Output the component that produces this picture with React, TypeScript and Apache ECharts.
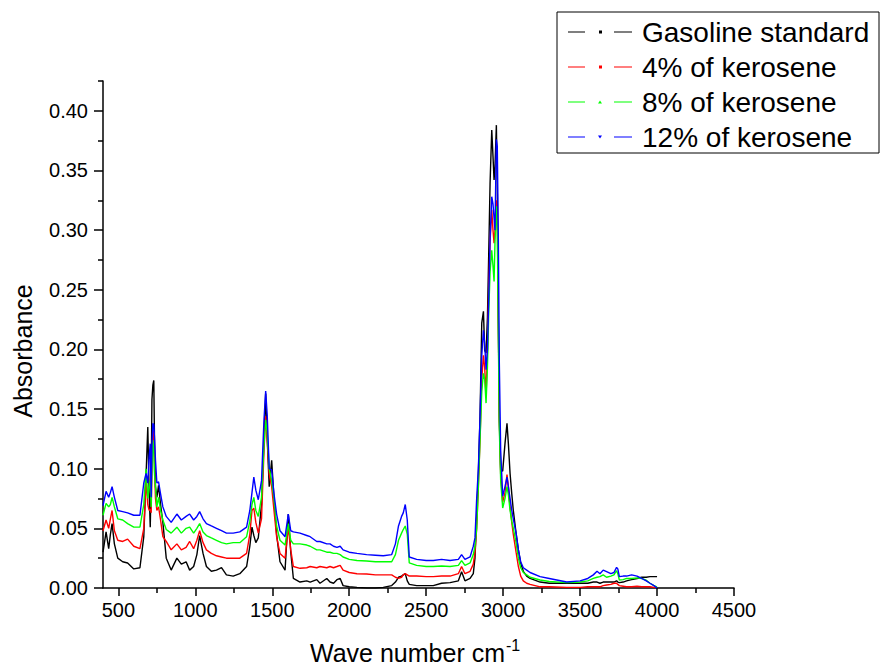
import React, { useEffect, useRef } from "react";
import * as echarts from "echarts";

// FTIR absorbance spectra: wave number (cm-1) vs absorbance
const waveNumbers = [
  400, 420, 437, 448, 459, 474, 496, 528, 560, 600,
  640, 665, 680, 691, 700, 707, 713, 718, 724, 730,
  735, 741, 750, 761, 774, 789, 811, 843, 880, 909,
  940, 963, 989, 1010, 1028, 1050, 1072, 1104, 1137, 1170,
  1202, 1246, 1289, 1333, 1354, 1368, 1380, 1393, 1409, 1430,
  1446, 1457, 1467, 1480, 1496, 1511, 1528, 1550, 1583, 1604,
  1620, 1637, 1680, 1724, 1746, 1789, 1810, 1854, 1875, 1898,
  1920, 1941, 1960, 2000, 2050, 2113, 2170, 2221, 2276, 2300,
  2320, 2340, 2351, 2364, 2377, 2390, 2438, 2500, 2546, 2600,
  2655, 2709, 2730, 2752, 2785, 2806, 2817, 2828, 2839, 2850,
  2861, 2872, 2880, 2889, 2898, 2906, 2915, 2926, 2934, 2941,
  2947, 2956, 2962, 2969, 2975, 2984, 2997, 3012, 3025, 3034,
  3045, 3056, 3066, 3084, 3099, 3114, 3131, 3153, 3175, 3240,
  3300, 3413, 3500, 3550, 3586, 3610, 3629, 3650, 3672, 3700,
  3720, 3737, 3745, 3755, 3780, 3802, 3835, 3870, 3900, 3930,
  3954, 3980, 4000,
];

const gasolineStandard = [
  0.030, 0.047, 0.033, 0.045, 0.054, 0.037, 0.025, 0.022, 0.021, 0.016,
  0.017, 0.043, 0.095, 0.135, 0.080, 0.051, 0.090, 0.158, 0.170, 0.174,
  0.120, 0.085, 0.076, 0.086, 0.070, 0.055, 0.025, 0.015, 0.025, 0.020,
  0.022, 0.015, 0.018, 0.028, 0.044, 0.029, 0.018, 0.014, 0.015, 0.017,
  0.011, 0.010, 0.012, 0.018, 0.035, 0.051, 0.044, 0.038, 0.042, 0.070,
  0.125, 0.163, 0.125, 0.085, 0.107, 0.075, 0.045, 0.022, 0.015, 0.062,
  0.030, 0.008, 0.005, 0.006, 0.005, 0.007, 0.004, 0.008, 0.005, 0.004,
  0.007, 0.008, 0.002, 0.001, 0.0005, 0.0, 0.0, 0.0005, 0.002, 0.005,
  0.009, 0.010, 0.011, 0.012, 0.006, 0.003, 0.002, 0.002, 0.002, 0.004,
  0.0045, 0.006, 0.0137, 0.006, 0.008, 0.012, 0.025, 0.060, 0.096, 0.144,
  0.222, 0.232, 0.199, 0.197, 0.227, 0.278, 0.339, 0.384, 0.362, 0.342,
  0.353, 0.388, 0.334, 0.222, 0.144, 0.099, 0.098, 0.121, 0.138, 0.121,
  0.096, 0.079, 0.065, 0.046, 0.032, 0.021, 0.014, 0.010, 0.008, 0.005,
  0.004, 0.004, 0.004, 0.004, 0.005, 0.005, 0.004, 0.005, 0.005, 0.005,
  0.005, 0.006, 0.005, 0.0045, 0.005, 0.006, 0.007, 0.008, 0.009, 0.009,
  0.0095, 0.0095, 0.0095,
];

const kerosene4 = [
  0.048, 0.057, 0.050, 0.058, 0.065, 0.048, 0.040, 0.039, 0.041, 0.035,
  0.033, 0.050, 0.090, 0.070, 0.065, 0.066, 0.063, 0.100, 0.132, 0.130,
  0.100, 0.075, 0.065, 0.068, 0.057, 0.043, 0.039, 0.032, 0.037, 0.032,
  0.034, 0.039, 0.033, 0.040, 0.048, 0.038, 0.032, 0.029, 0.027, 0.026,
  0.025, 0.025, 0.025, 0.029, 0.045, 0.065, 0.067, 0.055, 0.046, 0.058,
  0.115, 0.144, 0.125, 0.095, 0.085, 0.065, 0.043, 0.029, 0.025, 0.051,
  0.032, 0.018, 0.0165, 0.017, 0.018, 0.017, 0.018, 0.017, 0.018, 0.017,
  0.018, 0.019, 0.015, 0.013, 0.012, 0.0117, 0.011, 0.011, 0.011, 0.009,
  0.008, 0.009, 0.011, 0.012, 0.011, 0.010, 0.010, 0.0095, 0.0095, 0.010,
  0.010, 0.012, 0.018, 0.012, 0.014, 0.020, 0.030, 0.050, 0.085, 0.125,
  0.175, 0.195, 0.185, 0.160, 0.200, 0.250, 0.290, 0.317, 0.300, 0.289,
  0.300, 0.325, 0.310, 0.220, 0.140, 0.095, 0.072, 0.080, 0.095, 0.085,
  0.068, 0.055, 0.045, 0.030, 0.018, 0.010, 0.006, 0.004, 0.003, 0.001,
  0.001, 0.0005, 0.0005, 0.001, 0.001, 0.001, 0.001, 0.002, 0.0025, 0.003,
  0.004, 0.004, 0.003, 0.002, 0.0015, 0.001, 0.001, 0.0015, 0.001, 0.001,
  0.001, 0.0005, 0.0005,
];

const kerosene8 = [
  0.061, 0.071, 0.068, 0.070, 0.076, 0.068, 0.058, 0.057, 0.054, 0.051,
  0.051, 0.070, 0.100, 0.075, 0.085, 0.090, 0.068, 0.100, 0.124, 0.115,
  0.095, 0.085, 0.068, 0.076, 0.065, 0.057, 0.049, 0.046, 0.051, 0.046,
  0.050, 0.051, 0.046, 0.050, 0.054, 0.047, 0.044, 0.042, 0.040, 0.038,
  0.037, 0.038, 0.038, 0.043, 0.056, 0.070, 0.076, 0.065, 0.060, 0.076,
  0.120, 0.141, 0.130, 0.100, 0.090, 0.075, 0.052, 0.040, 0.036, 0.054,
  0.040, 0.037, 0.037, 0.036, 0.035, 0.032, 0.032, 0.030, 0.030, 0.029,
  0.029, 0.028, 0.026, 0.024, 0.023, 0.0226, 0.022, 0.022, 0.022, 0.028,
  0.040, 0.046, 0.049, 0.052, 0.045, 0.021, 0.019, 0.018, 0.018, 0.0185,
  0.018, 0.019, 0.023, 0.019, 0.021, 0.028, 0.035, 0.050, 0.085, 0.125,
  0.165, 0.180, 0.175, 0.155, 0.185, 0.230, 0.265, 0.283, 0.270, 0.257,
  0.290, 0.320, 0.300, 0.210, 0.135, 0.090, 0.067, 0.075, 0.085, 0.078,
  0.065, 0.056, 0.050, 0.038, 0.025, 0.017, 0.013, 0.011, 0.009, 0.0067,
  0.0055, 0.0045, 0.005, 0.006, 0.008, 0.009, 0.0095, 0.011, 0.009, 0.010,
  0.011, 0.0145, 0.012, 0.0067, 0.007, 0.008, 0.008, 0.0085, 0.008, 0.0065,
  0.004, 0.002, 0.001,
];

const kerosene12 = [
  0.069, 0.081, 0.076, 0.080, 0.085, 0.076, 0.065, 0.064, 0.063, 0.061,
  0.061, 0.088, 0.096, 0.088, 0.110, 0.121, 0.076, 0.120, 0.138, 0.137,
  0.125, 0.107, 0.088, 0.089, 0.079, 0.068, 0.060, 0.055, 0.062, 0.057,
  0.060, 0.062, 0.057, 0.060, 0.064, 0.058, 0.054, 0.052, 0.050, 0.048,
  0.046, 0.046, 0.047, 0.051, 0.065, 0.080, 0.093, 0.082, 0.074, 0.090,
  0.141, 0.165, 0.145, 0.100, 0.099, 0.079, 0.062, 0.048, 0.043, 0.062,
  0.048, 0.047, 0.046, 0.044, 0.043, 0.039, 0.039, 0.037, 0.037, 0.035,
  0.034, 0.035, 0.032, 0.030, 0.029, 0.028, 0.0275, 0.027, 0.028, 0.037,
  0.052, 0.060, 0.063, 0.070, 0.057, 0.026, 0.024, 0.023, 0.023, 0.024,
  0.023, 0.024, 0.028, 0.024, 0.026, 0.035, 0.042, 0.075, 0.100, 0.144,
  0.195, 0.216, 0.205, 0.183, 0.200, 0.240, 0.292, 0.328, 0.322, 0.310,
  0.300, 0.376, 0.370, 0.290, 0.190, 0.115, 0.077, 0.085, 0.093, 0.085,
  0.075, 0.065, 0.058, 0.046, 0.032, 0.022, 0.017, 0.015, 0.013, 0.0095,
  0.008, 0.005, 0.006, 0.008, 0.011, 0.014, 0.012, 0.015, 0.0137, 0.012,
  0.013, 0.0173, 0.016, 0.0095, 0.010, 0.010, 0.011, 0.010, 0.008, 0.006,
  0.004, 0.002, 0.000,
];

const seriesNames = [
  "Gasoline standard",
  "4% of kerosene",
  "8% of kerosene",
  "12% of kerosene",
];
const seriesColors = ["#000000", "#ff0000", "#00ff00", "#0000ff"];

const xTickValues = [500, 1000, 1500, 2000, 2500, 3000, 3500, 4000, 4500];
const xMinorTickValues = [750, 1250, 1750, 2250, 2750, 3250, 3750, 4250];
const yTickValues = [0, 0.05, 0.1, 0.15, 0.2, 0.25, 0.3, 0.35, 0.4];
const yMinorTickValues = [0.025, 0.075, 0.125, 0.175, 0.225, 0.275, 0.325, 0.375, 0.425];

const FONT = "'Liberation Sans', Arial, Helvetica, sans-serif";

// legend keys: line segment, marker, line segment
const legendIcons = [
  "path://M0,1H17V2H0Z M31,0H34V3H31Z M46,1H64V2H46Z",
  "path://M0,1H17V2H0Z M31,0H34V3H31Z M46,1H64V2H46Z",
  "path://M0,1H17V2H0Z M30,3L32,0L34,3Z M46,1H64V2H46Z",
  "path://M0,1H17V2H0Z M30,0L34,0L32,3Z M46,1H64V2H46Z",
];

export default function App() {
  const ref = useRef<HTMLDivElement>(null);

  useEffect(() => {
    if (!ref.current) return;
    const chart = echarts.init(ref.current, undefined, { renderer: "svg" });
    const spectra = [gasolineStandard, kerosene4, kerosene8, kerosene12];
    const axisLineStyle = { color: "#000", width: 1.5 };

    chart.setOption({
      animation: false,
      backgroundColor: "#fff",
      grid: { left: 103, top: 81, right: 146, bottom: 78, containLabel: false },
      xAxis: [
        {
          type: "value",
          min: 400,
          max: 4500,
          position: "bottom",
          axisLine: { show: true, onZero: false, lineStyle: axisLineStyle },
          axisTick: { show: true, length: 8, customValues: xTickValues, lineStyle: axisLineStyle },
          axisLabel: {
            customValues: xTickValues,
            formatter: (v: number) => String(v),
            margin: 12,
            color: "#000",
            fontSize: 20,
            fontFamily: FONT,
          },
          splitLine: { show: false },
        },
        {
          type: "value",
          min: 400,
          max: 4500,
          position: "bottom",
          axisLine: { show: false, onZero: false },
          axisTick: { show: true, length: 5, customValues: xMinorTickValues, lineStyle: axisLineStyle },
          axisLabel: { show: false },
          splitLine: { show: false },
        },
      ],
      yAxis: [
        {
          type: "value",
          min: 0,
          max: 0.425,
          position: "left",
          axisLine: { show: true, onZero: false, lineStyle: axisLineStyle },
          axisTick: { show: true, length: 9, customValues: yTickValues, lineStyle: axisLineStyle },
          axisLabel: {
            customValues: yTickValues,
            formatter: (v: number) => v.toFixed(2),
            margin: 15,
            color: "#000",
            fontSize: 20,
            fontFamily: FONT,
          },
          splitLine: { show: false },
        },
        {
          type: "value",
          min: 0,
          max: 0.425,
          position: "left",
          axisLine: { show: false, onZero: false },
          axisTick: { show: true, length: 5, customValues: yMinorTickValues, lineStyle: axisLineStyle },
          axisLabel: { show: false },
          splitLine: { show: false },
        },
      ],
      legend: {
        orient: "vertical",
        left: 568,
        top: 18,
        padding: 0,
        itemGap: 7,
        itemWidth: 64,
        itemHeight: 3,
        symbolKeepAspect: false,
        selectedMode: false,
        itemStyle: { borderWidth: 0 },
        data: seriesNames.map((name, i) => ({ name, icon: legendIcons[i] })),
        textStyle: {
          color: "#000",
          fontSize: 28,
          lineHeight: 28,
          fontFamily: FONT,
          padding: [0, 0, 0, 5],
        },
      },
      graphic: [
        {
          type: "rect",
          shape: { x: 557, y: 12, width: 322, height: 141 },
          style: { fill: "none", stroke: "#000", lineWidth: 1 },
          z: 0,
        },
        {
          type: "text",
          x: 23,
          y: 351,
          rotation: Math.PI / 2,
          style: {
            text: "Absorbance",
            fontSize: 25,
            fontFamily: FONT,
            fill: "#000",
            align: "center",
            verticalAlign: "middle",
          },
        },
        {
          type: "text",
          x: 505,
          y: 653,
          style: {
            text: "Wave number cm",
            fontSize: 25,
            fontFamily: FONT,
            fill: "#000",
            align: "right",
            verticalAlign: "middle",
          },
        },
        {
          type: "text",
          x: 506,
          y: 645,
          style: {
            text: "-1",
            fontSize: 16,
            fontFamily: FONT,
            fill: "#000",
            align: "left",
            verticalAlign: "middle",
          },
        },
      ],
      series: spectra.map((values, i) => ({
        name: seriesNames[i],
        type: "line",
        xAxisIndex: 0,
        yAxisIndex: 0,
        data: waveNumbers.map((w, j) => [w, values[j]]),
        showSymbol: false,
        symbol: "none",
        color: seriesColors[i],
        itemStyle: { color: seriesColors[i] },
        lineStyle: { color: seriesColors[i], width: 1.4 },
        z: 2 + i,
      })),
    });

    return () => chart.dispose();
  }, []);

  return (
    <div
      ref={ref}
      style={{ position: "fixed", left: 0, top: 0, width: 880, height: 666, background: "#fff" }}
    />
  );
}
